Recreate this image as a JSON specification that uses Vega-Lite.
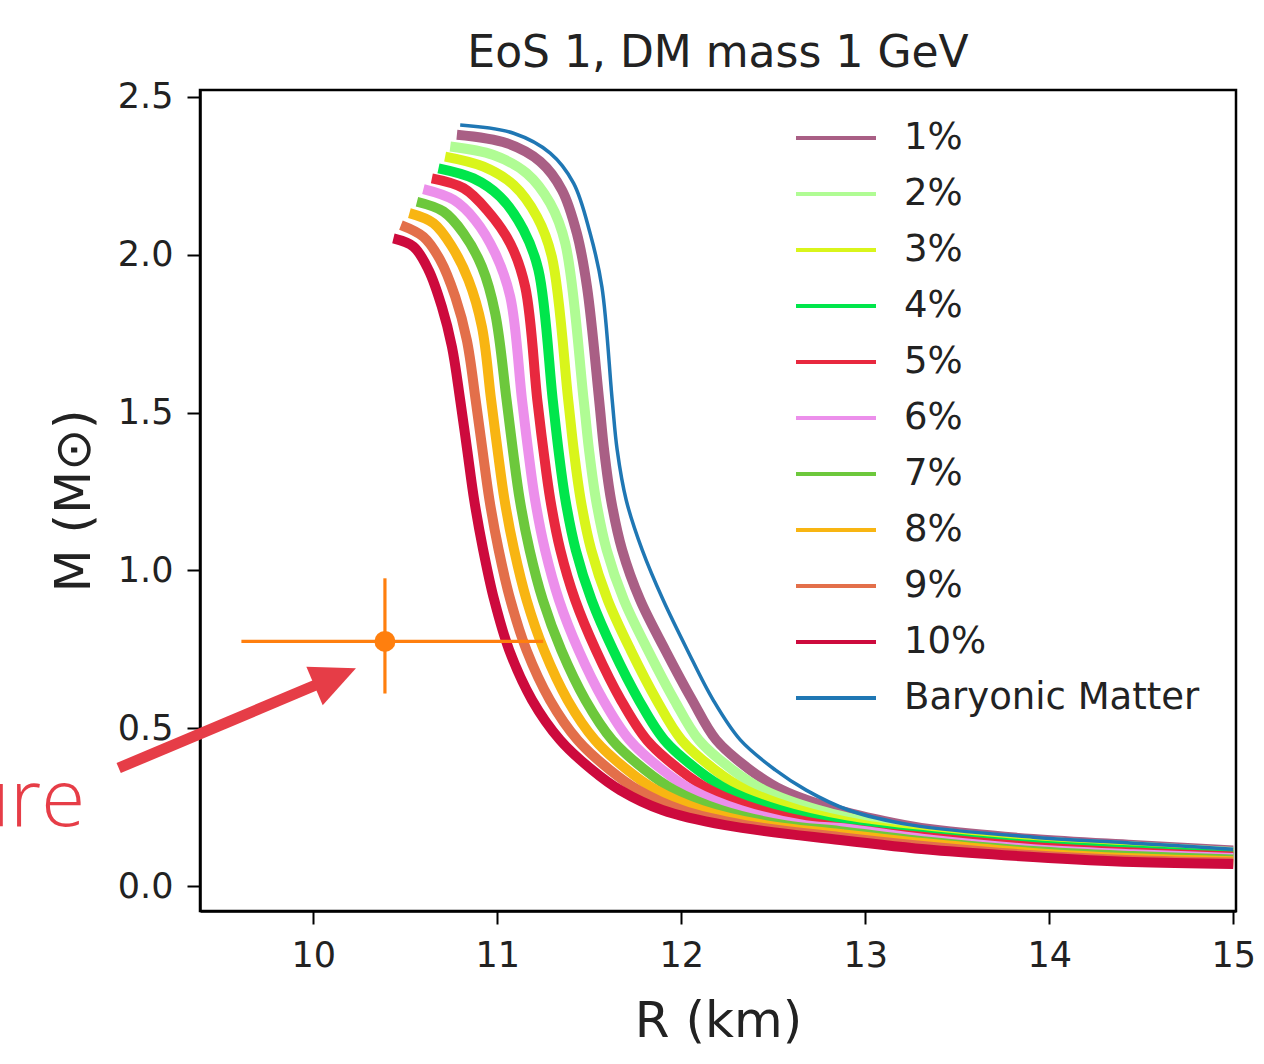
{
  "$schema": "https://vega.github.io/schema/vega-lite/v6.json",
  "autosize": {"type": "none"},
  "width": 1036,
  "height": 821,
  "padding": {"left": 200, "top": 90, "right": 28, "bottom": 153},
  "background": "white",
  "config": {
    "font": "DejaVu Sans",
    "view": {"stroke": "black", "strokeWidth": 2.5, "fill": "white"},
    "axis": {
      "domainColor": "black", "domainWidth": 2.5,
      "tickColor": "black", "tickWidth": 2, "tickSize": 13,
      "labelFont": "DejaVu Sans", "labelFontSize": 35, "labelColor": "#222222", "labelPadding": 14,
      "titleFont": "DejaVu Sans", "titleFontSize": 50, "titleFontWeight": "normal", "titleColor": "#222222",
      "grid": false
    },
    "legend": {
      "orient": "none", "legendX": 594, "legendY": 20, "padding": 0,
      "symbolType": "stroke", "symbolSize": 6400, "symbolStrokeWidth": 4,
      "labelFont": "DejaVu Sans", "labelFontSize": 37, "labelColor": "#222222", "labelOffset": 26, "labelLimit": 500,
      "clipHeight": 56, "rowPadding": 0, "title": null
    }
  },
  "title": {"text": "EoS 1, DM mass 1 GeV", "font": "DejaVu Sans", "fontSize": 44, "fontWeight": "normal", "color": "#222222", "offset": 4, "anchor": "middle"},
  "datasets": {
    "dm": [
      {"s":"1%","R":10.781,"M":2.380},{"s":"1%","R":11.053,"M":2.353},{"s":"1%","R":11.234,"M":2.295},{"s":"1%","R":11.352,"M":2.205},{"s":"1%","R":11.433,"M":2.068},{"s":"1%","R":11.488,"M":1.899},{"s":"1%","R":11.554,"M":1.540},{"s":"1%","R":11.581,"M":1.382},{"s":"1%","R":11.619,"M":1.223},{"s":"1%","R":11.679,"M":1.065},{"s":"1%","R":11.777,"M":0.906},{"s":"1%","R":11.913,"M":0.748},{"s":"1%","R":12.060,"M":0.589},{"s":"1%","R":12.190,"M":0.463},{"s":"1%","R":12.375,"M":0.368},{"s":"1%","R":12.549,"M":0.304},{"s":"1%","R":12.854,"M":0.241},{"s":"1%","R":13.217,"M":0.193},{"s":"1%","R":13.370,"M":0.179},{"s":"1%","R":13.913,"M":0.149},{"s":"1%","R":14.457,"M":0.130},{"s":"1%","R":15.0,"M":0.113},
      {"s":"2%","R":10.745,"M":2.343},{"s":"2%","R":10.980,"M":2.316},{"s":"2%","R":11.161,"M":2.258},{"s":"2%","R":11.288,"M":2.163},{"s":"2%","R":11.370,"M":2.036},{"s":"2%","R":11.470,"M":1.540},{"s":"2%","R":11.499,"M":1.382},{"s":"2%","R":11.537,"M":1.223},{"s":"2%","R":11.595,"M":1.065},{"s":"2%","R":11.689,"M":0.906},{"s":"2%","R":11.819,"M":0.748},{"s":"2%","R":11.963,"M":0.589},{"s":"2%","R":12.096,"M":0.463},{"s":"2%","R":12.280,"M":0.368},{"s":"2%","R":12.451,"M":0.304},{"s":"2%","R":12.747,"M":0.241},{"s":"2%","R":13.109,"M":0.193},{"s":"2%","R":13.370,"M":0.171},{"s":"2%","R":13.913,"M":0.143},{"s":"2%","R":14.457,"M":0.125},{"s":"2%","R":15.0,"M":0.108},
      {"s":"3%","R":10.717,"M":2.311},{"s":"3%","R":10.926,"M":2.279},{"s":"3%","R":11.089,"M":2.221},{"s":"3%","R":11.216,"M":2.121},{"s":"3%","R":11.297,"M":1.994},{"s":"3%","R":11.386,"M":1.540},{"s":"3%","R":11.416,"M":1.382},{"s":"3%","R":11.454,"M":1.223},{"s":"3%","R":11.511,"M":1.065},{"s":"3%","R":11.601,"M":0.906},{"s":"3%","R":11.725,"M":0.748},{"s":"3%","R":11.867,"M":0.589},{"s":"3%","R":12.002,"M":0.463},{"s":"3%","R":12.184,"M":0.368},{"s":"3%","R":12.353,"M":0.304},{"s":"3%","R":12.641,"M":0.241},{"s":"3%","R":13.000,"M":0.193},{"s":"3%","R":13.370,"M":0.165},{"s":"3%","R":13.913,"M":0.136},{"s":"3%","R":14.457,"M":0.119},{"s":"3%","R":15.0,"M":0.103},
      {"s":"4%","R":10.681,"M":2.274},{"s":"4%","R":10.871,"M":2.242},{"s":"4%","R":11.016,"M":2.184},{"s":"4%","R":11.143,"M":2.079},{"s":"4%","R":11.224,"M":1.952},{"s":"4%","R":11.302,"M":1.540},{"s":"4%","R":11.333,"M":1.382},{"s":"4%","R":11.371,"M":1.223},{"s":"4%","R":11.427,"M":1.065},{"s":"4%","R":11.513,"M":0.906},{"s":"4%","R":11.630,"M":0.748},{"s":"4%","R":11.770,"M":0.589},{"s":"4%","R":11.908,"M":0.463},{"s":"4%","R":12.089,"M":0.368},{"s":"4%","R":12.255,"M":0.304},{"s":"4%","R":12.535,"M":0.241},{"s":"4%","R":12.891,"M":0.193},{"s":"4%","R":13.370,"M":0.158},{"s":"4%","R":13.913,"M":0.130},{"s":"4%","R":14.457,"M":0.113},{"s":"4%","R":15.0,"M":0.098},
      {"s":"5%","R":10.645,"M":2.242},{"s":"5%","R":10.817,"M":2.211},{"s":"5%","R":10.944,"M":2.142},{"s":"5%","R":11.071,"M":2.036},{"s":"5%","R":11.152,"M":1.899},{"s":"5%","R":11.218,"M":1.540},{"s":"5%","R":11.251,"M":1.382},{"s":"5%","R":11.289,"M":1.223},{"s":"5%","R":11.343,"M":1.065},{"s":"5%","R":11.424,"M":0.906},{"s":"5%","R":11.536,"M":0.748},{"s":"5%","R":11.673,"M":0.589},{"s":"5%","R":11.813,"M":0.463},{"s":"5%","R":11.993,"M":0.368},{"s":"5%","R":12.158,"M":0.304},{"s":"5%","R":12.428,"M":0.241},{"s":"5%","R":12.783,"M":0.193},{"s":"5%","R":13.370,"M":0.152},{"s":"5%","R":13.913,"M":0.124},{"s":"5%","R":14.457,"M":0.106},{"s":"5%","R":15.0,"M":0.094},
      {"s":"6%","R":10.599,"M":2.208},{"s":"6%","R":10.763,"M":2.174},{"s":"6%","R":10.880,"M":2.110},{"s":"6%","R":10.989,"M":2.005},{"s":"6%","R":11.071,"M":1.867},{"s":"6%","R":11.135,"M":1.540},{"s":"6%","R":11.168,"M":1.382},{"s":"6%","R":11.206,"M":1.223},{"s":"6%","R":11.260,"M":1.065},{"s":"6%","R":11.336,"M":0.906},{"s":"6%","R":11.442,"M":0.748},{"s":"6%","R":11.577,"M":0.589},{"s":"6%","R":11.719,"M":0.463},{"s":"6%","R":11.898,"M":0.368},{"s":"6%","R":12.060,"M":0.304},{"s":"6%","R":12.322,"M":0.241},{"s":"6%","R":12.674,"M":0.193},{"s":"6%","R":12.864,"M":0.184},{"s":"6%","R":13.370,"M":0.146},{"s":"6%","R":13.913,"M":0.117},{"s":"6%","R":14.457,"M":0.101},{"s":"6%","R":15.0,"M":0.089},
      {"s":"7%","R":10.564,"M":2.168},{"s":"7%","R":10.708,"M":2.137},{"s":"7%","R":10.817,"M":2.068},{"s":"7%","R":10.917,"M":1.962},{"s":"7%","R":10.989,"M":1.815},{"s":"7%","R":11.051,"M":1.540},{"s":"7%","R":11.085,"M":1.382},{"s":"7%","R":11.123,"M":1.223},{"s":"7%","R":11.176,"M":1.065},{"s":"7%","R":11.248,"M":0.906},{"s":"7%","R":11.348,"M":0.748},{"s":"7%","R":11.480,"M":0.589},{"s":"7%","R":11.625,"M":0.463},{"s":"7%","R":11.803,"M":0.368},{"s":"7%","R":11.962,"M":0.304},{"s":"7%","R":12.216,"M":0.241},{"s":"7%","R":12.565,"M":0.193},{"s":"7%","R":12.864,"M":0.174},{"s":"7%","R":13.370,"M":0.139},{"s":"7%","R":13.913,"M":0.111},{"s":"7%","R":14.457,"M":0.095},{"s":"7%","R":15.0,"M":0.084},
      {"s":"8%","R":10.523,"M":2.132},{"s":"8%","R":10.654,"M":2.100},{"s":"8%","R":10.754,"M":2.026},{"s":"8%","R":10.844,"M":1.920},{"s":"8%","R":10.917,"M":1.772},{"s":"8%","R":10.967,"M":1.540},{"s":"8%","R":11.002,"M":1.382},{"s":"8%","R":11.040,"M":1.223},{"s":"8%","R":11.092,"M":1.065},{"s":"8%","R":11.160,"M":0.906},{"s":"8%","R":11.254,"M":0.748},{"s":"8%","R":11.383,"M":0.589},{"s":"8%","R":11.531,"M":0.463},{"s":"8%","R":11.707,"M":0.368},{"s":"8%","R":11.864,"M":0.304},{"s":"8%","R":12.109,"M":0.241},{"s":"8%","R":12.457,"M":0.193},{"s":"8%","R":12.864,"M":0.165},{"s":"8%","R":13.370,"M":0.133},{"s":"8%","R":13.913,"M":0.105},{"s":"8%","R":14.457,"M":0.088},{"s":"8%","R":15.0,"M":0.079},
      {"s":"9%","R":10.477,"M":2.094},{"s":"9%","R":10.599,"M":2.057},{"s":"9%","R":10.690,"M":1.984},{"s":"9%","R":10.772,"M":1.867},{"s":"9%","R":10.835,"M":1.730},{"s":"9%","R":10.883,"M":1.540},{"s":"9%","R":10.920,"M":1.382},{"s":"9%","R":10.958,"M":1.223},{"s":"9%","R":11.008,"M":1.065},{"s":"9%","R":11.072,"M":0.906},{"s":"9%","R":11.159,"M":0.748},{"s":"9%","R":11.287,"M":0.589},{"s":"9%","R":11.437,"M":0.463},{"s":"9%","R":11.612,"M":0.368},{"s":"9%","R":11.766,"M":0.304},{"s":"9%","R":12.003,"M":0.241},{"s":"9%","R":12.348,"M":0.193},{"s":"9%","R":12.864,"M":0.155},{"s":"9%","R":13.370,"M":0.124},{"s":"9%","R":13.913,"M":0.098},{"s":"9%","R":14.457,"M":0.082},{"s":"9%","R":15.0,"M":0.075},
      {"s":"10%","R":10.436,"M":2.052},{"s":"10%","R":10.545,"M":2.026},{"s":"10%","R":10.627,"M":1.952},{"s":"10%","R":10.699,"M":1.836},{"s":"10%","R":10.754,"M":1.709},{"s":"10%","R":10.799,"M":1.540},{"s":"10%","R":10.837,"M":1.382},{"s":"10%","R":10.875,"M":1.223},{"s":"10%","R":10.924,"M":1.065},{"s":"10%","R":10.984,"M":0.906},{"s":"10%","R":11.065,"M":0.748},{"s":"10%","R":11.190,"M":0.589},{"s":"10%","R":11.342,"M":0.463},{"s":"10%","R":11.516,"M":0.368},{"s":"10%","R":11.668,"M":0.304},{"s":"10%","R":11.897,"M":0.241},{"s":"10%","R":12.239,"M":0.193},{"s":"10%","R":12.864,"M":0.146},{"s":"10%","R":13.370,"M":0.114},{"s":"10%","R":13.913,"M":0.092},{"s":"10%","R":14.457,"M":0.076},{"s":"10%","R":15.0,"M":0.070}
    ],
    "bm": [
      {"s":"Baryonic Matter","R":10.799,"M":2.411},{"s":"Baryonic Matter","R":11.089,"M":2.385},{"s":"Baryonic Matter","R":11.288,"M":2.322},{"s":"Baryonic Matter","R":11.415,"M":2.227},{"s":"Baryonic Matter","R":11.505,"M":2.068},{"s":"Baryonic Matter","R":11.569,"M":1.899},{"s":"Baryonic Matter","R":11.625,"M":1.540},{"s":"Baryonic Matter","R":11.652,"M":1.382},{"s":"Baryonic Matter","R":11.701,"M":1.223},{"s":"Baryonic Matter","R":11.788,"M":1.065},{"s":"Baryonic Matter","R":11.902,"M":0.906},{"s":"Baryonic Matter","R":12.033,"M":0.748},{"s":"Baryonic Matter","R":12.174,"M":0.589},{"s":"Baryonic Matter","R":12.321,"M":0.463},{"s":"Baryonic Matter","R":12.511,"M":0.368},{"s":"Baryonic Matter","R":12.679,"M":0.304},{"s":"Baryonic Matter","R":12.908,"M":0.241},{"s":"Baryonic Matter","R":13.255,"M":0.193},{"s":"Baryonic Matter","R":13.913,"M":0.155},{"s":"Baryonic Matter","R":14.457,"M":0.136},{"s":"Baryonic Matter","R":15.0,"M":0.117}
    ],
    "obs": [{"R": 10.39, "M": 0.775, "Rlo": 9.61, "Rhi": 11.25, "Mlo": 0.61, "Mhi": 0.975}],
    "arrow": [{"x0": 8.943, "y0": 0.374, "x1": 10.027, "y1": 0.640, "hx": 10.120, "hy": 0.662}],
    "note": [{"t": "ure", "x": 8.761, "y": 0.19}]
  },
  "layer": [
    {
      "data": {"name": "dm"},
      "mark": {"type": "line", "strokeWidth": 10, "interpolate": "catmull-rom", "clip": true},
      "encoding": {
        "x": {"field": "R", "type": "quantitative", "title": "R (km)", "scale": {"domain": [9.385, 15.015], "nice": false, "zero": false}, "axis": {"values": [10, 11, 12, 13, 14, 15], "format": "d", "labelFlush": false, "titlePadding": 23}},
        "y": {"field": "M", "type": "quantitative", "title": "M (M⊙)", "scale": {"domain": [-0.079, 2.522], "nice": false, "zero": false}, "axis": {"values": [0, 0.5, 1, 1.5, 2, 2.5], "format": ".1f", "titlePadding": 18}},
        "color": {"field": "s", "type": "nominal", "scale": {"domain": ["1%", "2%", "3%", "4%", "5%", "6%", "7%", "8%", "9%", "10%", "Baryonic Matter"], "range": ["#a95f85", "#b0fc94", "#d9f51b", "#00e64b", "#e8283e", "#ec8feb", "#6dc83c", "#f8b512", "#e36f4a", "#cd0a3d", "#1f77b4"]}}
      }
    },
    {
      "data": {"name": "bm"},
      "mark": {"type": "line", "strokeWidth": 3.5, "interpolate": "catmull-rom", "clip": true},
      "encoding": {
        "x": {"field": "R", "type": "quantitative", "title": "R (km)", "scale": {"domain": [9.385, 15.015], "nice": false, "zero": false}},
        "y": {"field": "M", "type": "quantitative", "title": "M (M⊙)", "scale": {"domain": [-0.079, 2.522], "nice": false, "zero": false}},
        "color": {"field": "s", "type": "nominal", "scale": {"domain": ["1%", "2%", "3%", "4%", "5%", "6%", "7%", "8%", "9%", "10%", "Baryonic Matter"], "range": ["#a95f85", "#b0fc94", "#d9f51b", "#00e64b", "#e8283e", "#ec8feb", "#6dc83c", "#f8b512", "#e36f4a", "#cd0a3d", "#1f77b4"]}}
      }
    },
    {
      "data": {"name": "obs"},
      "mark": {"type": "rule", "color": "#ff7f0e", "strokeWidth": 3.2},
      "encoding": {
        "x": {"field": "Rlo", "type": "quantitative", "title": "R (km)", "scale": {"domain": [9.385, 15.015], "nice": false, "zero": false}},
        "x2": {"field": "Rhi"},
        "y": {"field": "M", "type": "quantitative", "title": "M (M⊙)", "scale": {"domain": [-0.079, 2.522], "nice": false, "zero": false}}
      }
    },
    {
      "data": {"name": "obs"},
      "mark": {"type": "rule", "color": "#ff7f0e", "strokeWidth": 3.2},
      "encoding": {
        "x": {"field": "R", "type": "quantitative", "title": "R (km)", "scale": {"domain": [9.385, 15.015], "nice": false, "zero": false}},
        "y": {"field": "Mlo", "type": "quantitative", "title": "M (M⊙)", "scale": {"domain": [-0.079, 2.522], "nice": false, "zero": false}},
        "y2": {"field": "Mhi"}
      }
    },
    {
      "data": {"name": "obs"},
      "mark": {"type": "point", "shape": "circle", "filled": true, "size": 441, "color": "#ff7f0e", "opacity": 1},
      "encoding": {
        "x": {"field": "R", "type": "quantitative", "title": "R (km)", "scale": {"domain": [9.385, 15.015], "nice": false, "zero": false}},
        "y": {"field": "M", "type": "quantitative", "title": "M (M⊙)", "scale": {"domain": [-0.079, 2.522], "nice": false, "zero": false}}
      }
    },
    {
      "data": {"name": "arrow"},
      "mark": {"type": "rule", "color": "#e63d47", "strokeWidth": 11},
      "encoding": {
        "x": {"field": "x0", "type": "quantitative", "title": "R (km)", "scale": {"domain": [9.385, 15.015], "nice": false, "zero": false}},
        "y": {"field": "y0", "type": "quantitative", "title": "M (M⊙)", "scale": {"domain": [-0.079, 2.522], "nice": false, "zero": false}},
        "x2": {"field": "x1"},
        "y2": {"field": "y1"}
      }
    },
    {
      "data": {"name": "arrow"},
      "mark": {"type": "point", "shape": "M 1 0 L -1 -0.93 L -1 0.93 Z", "filled": true, "size": 2025, "angle": -23, "color": "#e63d47", "opacity": 1},
      "encoding": {
        "x": {"field": "hx", "type": "quantitative", "title": "R (km)", "scale": {"domain": [9.385, 15.015], "nice": false, "zero": false}},
        "y": {"field": "hy", "type": "quantitative", "title": "M (M⊙)", "scale": {"domain": [-0.079, 2.522], "nice": false, "zero": false}}
      }
    },
    {
      "data": {"name": "note"},
      "mark": {"type": "text", "align": "right", "baseline": "alphabetic", "font": "Open Sans", "fontWeight": 300, "fontSize": 80, "color": "#e63d47"},
      "encoding": {
        "x": {"field": "x", "type": "quantitative", "title": "R (km)", "scale": {"domain": [9.385, 15.015], "nice": false, "zero": false}},
        "y": {"field": "y", "type": "quantitative", "title": "M (M⊙)", "scale": {"domain": [-0.079, 2.522], "nice": false, "zero": false}},
        "text": {"field": "t"}
      }
    }
  ]
}
